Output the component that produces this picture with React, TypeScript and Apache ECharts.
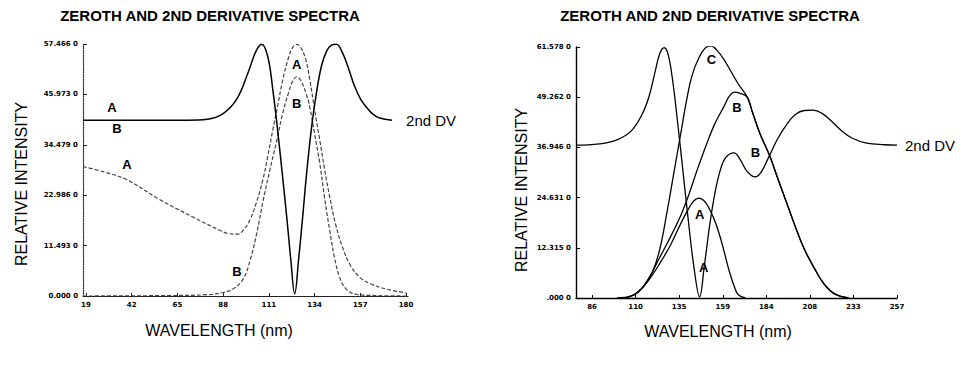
import React, { useEffect, useRef } from "react";
import * as echarts from "echarts";

// ---------- data ----------
const titleText = "ZEROTH AND 2ND DERIVATIVE SPECTRA";
const yName = "RELATIVE INTENSITY";
const xName = "WAVELENGTH (nm)";

const leftXTicks = [19, 42, 65, 88, 111, 134, 157, 180];
const leftYLabels = ["0.000 0", "11.493 0", "22.986 0", "34.479 0", "45.973 0", "57.466 0"];
const leftYMax = 57.466;

const rightXTicks = [86, 110.43, 134.86, 159.29, 183.71, 208.14, 232.57, 257];
const rightYLabels = [".000 0", "12.315 0", "24.631 0", "36.946 0", "49.262 0", "61.578 0"];
const rightYMax = 61.578;

const leftDv = [
  [17.5, 40.1], [40, 40.1], [70, 40.1], [80, 40.3], [88, 41.6], [95, 45], [101, 51.5], [104.5, 55.8],
  [107.4, 57.4], [110.5, 54.5], [113, 47], [115, 39.5], [117.5, 29], [120, 18], [122, 8.5], [124, 0.5],
  [126, 8.5], [128, 18], [130, 28], [132.5, 38.5], [135, 46.5], [137.5, 52.5], [140, 55.8], [142.5, 57.2],
  [145, 57.4], [148, 55.5], [151, 52], [154, 48], [157, 45], [160, 43.1], [163, 41.6],
  [166.7, 40.6], [173, 40.1],
];
const leftA = [
  [17.5, 29.5], [28, 28.3], [39.6, 26.5], [56, 22], [72.8, 18],
  [86.3, 15], [91, 14.2], [95, 14.1], [98, 14.9], [101.4, 17.3], [104.5, 21], [108, 26.5],
  [110.5, 32], [113, 37.9], [115.5, 43.5], [118, 49.3], [121, 54.5], [123, 56.7], [125, 57.4],
  [127, 56.7], [129.5, 54], [131.6, 49.3], [134, 42.5], [136.6, 35.6], [139, 29], [141.6, 22.6],
  [144.5, 16.5], [148, 11.2], [152, 7], [156.7, 4.3], [162, 2.8], [170, 1.6], [180, 0.7],
];
const leftB = [
  [17.5, 0], [60, 0.1], [80, 0.3], [88, 0.8], [93, 1.6], [98, 3.8], [101.5, 8], [105, 14.5],
  [108, 21.5], [111.5, 28.7], [115, 35.5], [118, 41.7], [121, 46.5], [123, 49], [125, 50],
  [127, 49.2], [129.5, 46.5], [131.6, 43], [134, 37], [136.6, 30.3], [139, 22.5], [141.6, 15],
  [144, 8.8], [146.6, 4.3], [150, 1.5], [155, 0.4], [165, 0.1], [181, 0],
];
const leftLabels = [
  [32, 42.9, "A"], [34.6, 38.2, "B"], [39.6, 29.9, "A"], [125, 52.9, "A"], [125, 44, "B"], [94.9, 5.5, "B"],
];

const rightDv = [
  [77, 37.5], [90, 37.8], [100, 38.8], [108, 41], [114, 45], [118, 49.5], [121.5, 55.8], [124, 60],
  [126.4, 61.4], [128.5, 60], [131, 54], [134, 43], [137, 31], [140, 19], [143, 8], [146.3, 0.3],
  [149, 8], [152, 18], [155, 26], [158, 31.5], [161, 34.5], [165.6, 35.6], [169, 34], [173, 31],
  [177.6, 29.7], [181, 31], [185, 34.5], [190, 39], [195, 42.5], [200, 45], [205, 46], [210, 46.1],
  [215, 45.3], [220, 43.5], [226, 41], [232, 39.2], [240, 38], [250, 37.6], [257, 37.5],
];
const rightC = [
  [100, 0], [108, 0.5], [113, 2], [116, 3.5], [120, 6.5], [124, 12], [128, 21], [132, 31], [136, 41],
  [139, 48.5], [142, 54.5], [146, 59], [150, 61.5], [153, 61.8], [156, 60.8], [160, 58.5], [164, 55.5],
  [168, 52.5], [173, 49.3], [176, 45.5], [180, 40.5], [185.5, 35], [190, 29.5], [195, 23.5],
  [200, 17.5], [205, 12], [211.7, 6.5], [216, 3.5], [222, 1], [230, 0],
];
const rightB = [
  [105, 0], [112, 1.5], [118, 5], [124, 10], [130, 15], [136, 20.5], [140, 25], [145, 31.5],
  [150, 37.5], [155, 42.9], [160, 47], [163, 49.5], [166, 50.5], [169, 50.2], [173, 49.3],
  [176, 45.5], [180, 40.5], [185.5, 35], [190, 29.5], [195, 23.5], [200, 17.5], [205, 12],
  [211.7, 6.5], [216, 3.5], [222, 1], [230, 0],
];
const rightA = [
  [105, 0], [112, 1.5], [118, 4.5], [124, 8.5], [130, 13], [136, 18.5], [140, 21.8], [143, 23.8],
  [145.8, 24.5], [148.5, 24], [151, 22.5], [154, 19.8], [157, 16.2], [160, 11.5], [163, 6.5],
  [166, 2.5], [168, 0.8], [172, 0],
];
const rightLabels = [
  [153, 58.4, "C"], [167.3, 46.8, "B"], [177.6, 35.8, "B"], [146.3, 20.4, "A"], [148.6, 7.4, "A"],
];

const FONT = "'Liberation Sans', Arial, sans-serif";

export default function App() {
  const ref = useRef<HTMLDivElement>(null);
  useEffect(() => {
    if (!ref.current) return;
    const chart = echarts.init(ref.current, null, { renderer: "svg" });
    const axisLabelBase = { color: "#000", fontSize: 7, fontWeight: "bold" as const, fontFamily: "'DejaVu Sans', sans-serif" };
    const lineSeries = (data: number[][], xi: number, opts: any = {}) => ({
      type: "line",
      xAxisIndex: xi,
      yAxisIndex: xi,
      data,
      smooth: 0.4,
      showSymbol: false,
      symbol: "none",
      silent: true,
      lineStyle: { color: "#000", width: 1.4, ...(opts.lineStyle || {}) },
      ...opts.extra,
    });
    const labelSeries = (data: any[], xi: number) => ({
      type: "scatter",
      xAxisIndex: xi,
      yAxisIndex: xi,
      data,
      symbolSize: 0,
      silent: true,
      itemStyle: { opacity: 1 },
      label: {
        show: true,
        position: "inside",
        formatter: (p: any) => p.data[2],
        fontSize: 13,
        fontWeight: "bold",
        color: "#000",
        fontFamily: FONT,
      },
    });
    const textStyle = (text: string, size: number, weight = "normal") => ({
      text, fontSize: size, fontWeight: weight, fontFamily: FONT, fill: "#000", align: "center", verticalAlign: "middle",
    });
    chart.setOption({
      animation: false,
      backgroundColor: "#fff",
      grid: [
        { left: 83, top: 44, width: 325, height: 252 },
        { left: 576, top: 47, width: 321, height: 251 },
      ],
      xAxis: [
        {
          type: "value", gridIndex: 0, min: 17.5, max: 181,
          axisLine: { lineStyle: { color: "#222", width: 1.2 } },
          axisTick: { show: true, inside: true, length: 3, customValues: leftXTicks, lineStyle: { color: "#222" } },
          axisLabel: { ...axisLabelBase, customValues: leftXTicks, margin: 5, formatter: (v: number) => String(Math.round(v)) },
          splitLine: { show: false },
        },
        {
          type: "value", gridIndex: 1, min: 77, max: 257,
          axisLine: { lineStyle: { color: "#000", width: 1.4 } },
          axisTick: { show: true, inside: true, length: 3, customValues: rightXTicks, lineStyle: { color: "#000" } },
          axisLabel: { ...axisLabelBase, customValues: rightXTicks, margin: 5, formatter: (v: number) => String(Math.round(v)) },
          splitLine: { show: false },
        },
      ],
      yAxis: [
        {
          type: "value", gridIndex: 0, min: 0, max: leftYMax, interval: leftYMax / 5,
          axisLine: { show: true, lineStyle: { color: "#333", type: "dotted", width: 1.2 } },
          axisTick: { show: true, inside: true, length: 4, lineStyle: { color: "#222" } },
          axisLabel: { ...axisLabelBase, margin: 5, formatter: (v: number) => leftYLabels[Math.round(v / (leftYMax / 5))] ?? "" },
          splitLine: { show: false },
        },
        {
          type: "value", gridIndex: 1, min: 0, max: rightYMax, interval: rightYMax / 5,
          axisLine: { show: true, lineStyle: { color: "#000", width: 1.4 } },
          axisTick: { show: true, inside: true, length: 4, lineStyle: { color: "#000" } },
          axisLabel: { ...axisLabelBase, margin: 5, formatter: (v: number) => rightYLabels[Math.round(v / (rightYMax / 5))] ?? "" },
          splitLine: { show: false },
        },
      ],
      graphic: [
        { type: "text", x: 210, y: 15, style: textStyle(titleText, 15, "bold") },
        { type: "text", x: 710, y: 15, style: textStyle(titleText, 15, "bold") },
        { type: "text", x: 21, y: 184, rotation: Math.PI / 2, style: textStyle(yName, 16) },
        { type: "text", x: 521, y: 190, rotation: Math.PI / 2, style: textStyle(yName, 16) },
        { type: "text", x: 219, y: 330, style: textStyle(xName, 16) },
        { type: "text", x: 718, y: 331, style: textStyle(xName, 16) },
      ],
      series: [
        lineSeries(leftB, 0, { lineStyle: { color: "#444", width: 1.2, type: [4, 2] } }),
        lineSeries(leftA, 0, { lineStyle: { color: "#444", width: 1.2, type: [4, 2] } }),
        lineSeries(leftDv, 0, {
          lineStyle: { color: "#000", width: 1.5 },
          extra: { endLabel: { show: true, formatter: "2nd DV", distance: 14, fontSize: 15, fontFamily: FONT, color: "#000" } },
        }),
        labelSeries(leftLabels, 0),
        lineSeries(rightA, 1, { lineStyle: { color: "#000", width: 1.3 } }),
        lineSeries(rightB, 1, { lineStyle: { color: "#000", width: 1.3 } }),
        lineSeries(rightC, 1, { lineStyle: { color: "#000", width: 1.3 } }),
        lineSeries(rightDv, 1, {
          lineStyle: { color: "#000", width: 1.3 },
          extra: { endLabel: { show: true, formatter: "2nd DV", distance: 8, fontSize: 15, fontFamily: FONT, color: "#000" } },
        }),
        labelSeries(rightLabels, 1),
      ],
    });
    return () => chart.dispose();
  }, []);
  return <div ref={ref} style={{ width: 974, height: 366, position: "absolute", left: 0, top: 0 }} />;
}
